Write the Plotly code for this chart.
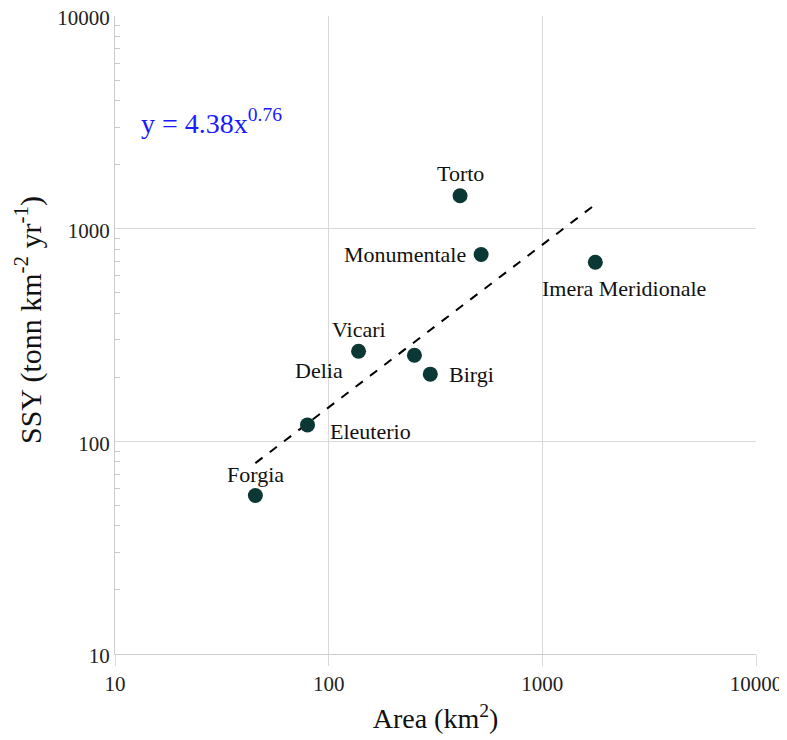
import plotly.graph_objects as go
import math

# Data
sites = ["Forgia", "Eleuterio", "Vicari", "Delia", "Birgi", "Torto", "Monumentale", "Imera Meridionale"]
area_km2 = [45.4, 79.6, 138, 252, 299, 412, 517, 1770]
ssy = [55.6, 119.5, 265, 254, 207, 1428, 756, 695]

# Power-law trend line end points (y = 4.38x^0.76)
trend_x = [45.4, 1770]
trend_y = [79, 1300]

# label offsets (px) and anchors
label_dx = [0, 20, 0, -95, 17, 0, -13, 29]
label_dy = [21, -7, 22, -15, 0, 22, 0, -26]
label_anchor = ["center", "left", "center", "center", "left", "center", "right", "center"]

tick_vals = [10, 100, 1000, 10000]
tick_text = ["10", "100", "1000", "10000"]
minor_vals = [m * d for d in (10, 100, 1000) for m in range(2, 10)]

FONT = "Liberation Serif"

fig = go.Figure()
fig.add_trace(go.Scatter(
    x=trend_x, y=trend_y, mode="lines",
    line=dict(color="black", width=2, dash="dash"),
    hoverinfo="skip", showlegend=False))
fig.add_trace(go.Scatter(
    x=area_km2, y=ssy, mode="markers",
    marker=dict(size=15, color="#0b3734"),
    text=sites, showlegend=False))

for s, xv, yv, dx, dy, anc in zip(sites, area_km2, ssy, label_dx, label_dy, label_anchor):
    fig.add_annotation(x=math.log10(xv), y=math.log10(yv), text=s, showarrow=False,
                       xshift=dx, yshift=dy, xanchor=anc,
                       font=dict(family=FONT, size=22, color="#111111"))

fig.add_annotation(xref="paper", yref="paper", x=0.037, y=0.835, xanchor="left", yanchor="middle",
                   text="y = 4.38x<sup>0.76</sup>", showarrow=False,
                   font=dict(family=FONT, size=28, color="#1a1aff"))

# y-axis title
fig.add_annotation(xref="paper", yref="paper", x=0, y=0.5, xshift=-87, yshift=15,
                   xanchor="center", yanchor="middle", textangle=-90, showarrow=False,
                   text="SSY (tonn km<sup>-2</sup> yr<sup>-1</sup>)",
                   font=dict(family=FONT, size=30, color="#111111"))

axis_common = dict(
    type="log", tickvals=tick_vals, ticktext=tick_text,
    showgrid=True, gridcolor="#d9d9d9", gridwidth=1,
    showline=True, linecolor="#cccccc", linewidth=1,
    zeroline=False, automargin=False, ticklabeloverflow="allow",
    tickfont=dict(family=FONT, size=21, color="#222222"),
)

fig.update_xaxes(**axis_common, range=[1, 4],
                 ticks="outside", ticklen=11, tickcolor="#d9d9d9",
                 title=dict(text="Area (km<sup>2</sup>)", font=dict(family=FONT, size=28, color="#111111"), standoff=13))
fig.update_yaxes(**axis_common, range=[1, 4],
                 ticks="", ticklabelshift=2,
                 minor=dict(ticks="inside", ticklen=5, tickcolor="#c8c8c8", showgrid=False, tickvals=minor_vals))

# the page places the figure 8px from the top-left corner
fig.update_layout(
    width=779, height=732,
    margin=dict(l=107, r=31, t=8, b=86),
    plot_bgcolor="white", paper_bgcolor="white",
)

fig.write_html("out.html")
